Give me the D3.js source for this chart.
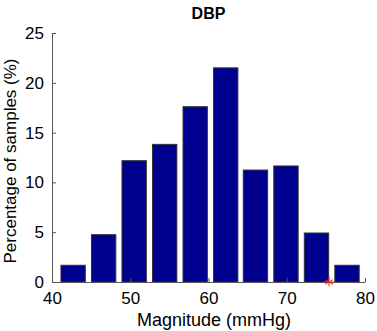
<!DOCTYPE html>
<html lang="en">
<head>
<meta charset="UTF-8">
<title>DBP histogram</title>
<style>
  body { margin: 0; background: #fff; }
  svg text { font-family: "Liberation Sans", Arial, Helvetica, sans-serif; fill: #000; }
</style>
<script src="https://d3js.org/d3.v7.min.js"></script>
</head>
<body>
<script>
// bin centres (mmHg) and percentage of samples per bin
const binCenters = [42.7, 46.6, 50.5, 54.4, 58.3, 62.2, 66.0, 69.9, 73.8, 77.7];
const percentages = [1.68, 4.75, 12.18, 13.82, 17.6, 21.5, 11.24, 11.65, 4.92, 1.68];
const markerX = [75.4];
const xTicks = [40, 50, 60, 70, 80];
const yTicks = [0, 5, 10, 15, 20, 25];

const width = 377, height = 331;
const binWidth = 3.89;

const svg = d3.select('body').append('svg')
    .attr('width', width)
    .attr('height', height);

const x = d3.scaleLinear().domain([40, 80]).range([52, 365]);
const y = d3.scaleLinear().domain([0, 25]).range([282, 33]);

const axisColor = '#555';

// bars
svg.selectAll('rect.bar')
    .data(binCenters)
    .enter().append('rect')
    .attr('class', 'bar')
    .attr('x', (d) => x(d - binWidth * 0.4))
    .attr('width', x(binWidth * 0.8) - x(0))
    .attr('y', (d, i) => y(percentages[i]))
    .attr('height', (d, i) => y(0) - y(percentages[i]))
    .attr('fill', '#00008f')
    .attr('stroke', '#333')
    .attr('stroke-width', 1);

// x axis, MATLAB style ticks pointing in
const xAxis = svg.append('g')
    .attr('transform', `translate(0,${y(0)})`)
    .call(d3.axisBottom(x).tickValues(xTicks).tickSizeInner(-4).tickSizeOuter(0).tickPadding(8));
xAxis.selectAll('text').attr('font-size', 17).attr('dy', '0.85em');

const yAxis = svg.append('g')
    .attr('transform', `translate(${x(40)},0)`)
    .call(d3.axisLeft(y).tickValues(yTicks).tickSizeInner(-4).tickSizeOuter(0).tickPadding(8));
yAxis.selectAll('text').attr('font-size', 17);

svg.selectAll('.domain, .tick line').attr('stroke', axisColor);
svg.selectAll('.tick text').style('font-family', '"Liberation Sans", Arial, sans-serif');

// red asterisk marker on the axis
const star = svg.selectAll('g.marker')
    .data(markerX)
    .enter().append('g')
    .attr('class', 'marker')
    .attr('transform', (d) => `translate(${x(d)},${y(0)})`);
[0, 60, 120].forEach((a) => {
  const r = 4.5, t = a * Math.PI / 180;
  star.append('line')
      .attr('x1', -r * Math.sin(t)).attr('y1', -r * Math.cos(t))
      .attr('x2', r * Math.sin(t)).attr('y2', r * Math.cos(t))
      .attr('stroke', '#ff2020').attr('stroke-width', 1);
});
star.append('line')
    .attr('x1', -4.5).attr('x2', 4.5).attr('y1', 0).attr('y2', 0)
    .attr('stroke', '#ff2020').attr('stroke-width', 1);

// title and labels
svg.append('text')
    .attr('x', (x(40) + x(80)) / 2)
    .attr('y', 19)
    .attr('text-anchor', 'middle')
    .attr('font-size', 16)
    .attr('font-weight', 'bold')
    .text('DBP');

svg.append('text')
    .attr('x', 214)
    .attr('y', 326)
    .attr('text-anchor', 'middle')
    .attr('font-size', 18)
    .text('Magnitude (mmHg)');

svg.append('text')
    .attr('transform', 'translate(16,161) rotate(-90)')
    .attr('text-anchor', 'middle')
    .attr('font-size', 17)
    .text('Percentage of samples (%)');
</script>
</body>
</html>
